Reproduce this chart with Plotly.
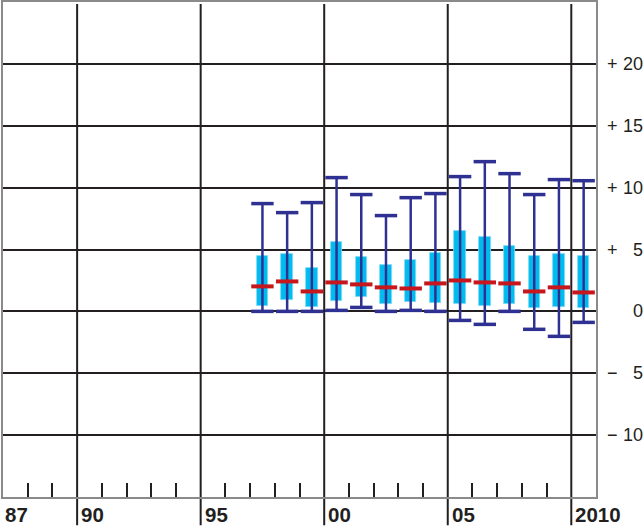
import plotly.graph_objects as go

# ---- data ----
years = [1997, 1998, 1999, 2000, 2001, 2002, 2003, 2004, 2005, 2006, 2007, 2008, 2009, 2010]
upper = [8.71, 7.98, 8.79, 10.81, 9.44, 7.74, 9.19, 9.52, 10.89, 12.10, 11.13, 9.44, 10.65, 10.56]
q3 = [4.49, 4.65, 3.50, 5.57, 4.38, 3.74, 4.17, 4.73, 6.48, 6.02, 5.27, 4.47, 4.60, 4.47]
median = [2.02, 2.42, 1.61, 2.34, 2.18, 1.94, 1.85, 2.26, 2.50, 2.34, 2.26, 1.61, 1.94, 1.53]
q1 = [0.43, 0.89, 0.32, 0.86, 1.13, 0.56, 0.73, 0.65, 0.56, 0.40, 0.56, 0.27, 0.32, 0.24]
lower = [0.00, 0.00, 0.00, 0.08, 0.32, 0.00, 0.08, 0.00, -0.73, -1.05, 0.00, -1.45, -2.02, -0.89]

x_label_years = [1987, 1990, 1995, 2000, 2005, 2010]
x_label_text = ["87", "90", "95", "00", "05", "2010"]
major_years = [1990, 1995, 2000, 2005, 2010]
minor_years = [y for y in range(1988, 2010) if y % 5 != 0]

y_grid = [-10, -5, 0, 5, 10, 15, 20]
y_sign = ["−", "−", "", "+", "+", "+", "+"]
y_num = ["10", "5", "0", "5", "10", "15", "20"]

NAVY = "#2E3192"
CYAN = "#00BCEE"
RED = "#C8161D"
INK = "#231F20"

xc = [y + 0.5 for y in years]  # boxes sit in the middle of each year

fig = go.Figure()

# whiskers
wx, wy = [], []
for x, lo, hi in zip(xc, lower, upper):
    wx += [x, x, None]
    wy += [lo, hi, None]
fig.add_trace(go.Scatter(x=wx, y=wy, mode="lines",
                         line=dict(color=NAVY, width=2.5), hoverinfo="skip"))

# caps
fig.add_trace(go.Scatter(x=xc + xc, y=upper + lower, mode="markers",
                         marker=dict(symbol="line-ew", size=16,
                                     line=dict(color=NAVY, width=3.5)),
                         hoverinfo="skip"))

# boxes
fig.add_trace(go.Bar(x=xc, base=q1, y=[b - a for a, b in zip(q1, q3)],
                     width=0.46, marker=dict(color=CYAN, line=dict(color="#7FD8F5", width=0.8))))

# medians
fig.add_trace(go.Scatter(x=xc, y=median, mode="markers",
                         marker=dict(symbol="line-ew", size=16,
                                     line=dict(color=RED, width=4)),
                         hoverinfo="skip"))

shapes = []
for y in major_years:
    shapes.append(dict(type="line", xref="x", yref="paper", x0=y, x1=y,
                       y0=-0.057, y1=0.996, line=dict(color=INK, width=2), layer="below"))

annotations = []
for y, t in zip(x_label_years, x_label_text):
    annotations.append(dict(x=y, y=-18 / 497, xref="x", yref="paper", text=t,
                            showarrow=False, xanchor="left", yanchor="middle",
                            xshift=2 if y != 1987 else 0,
                            font=dict(family="Liberation Sans", size=20.5, color=INK, weight="bold")))
for v, s, n in zip(y_grid, y_sign, y_num):
    if s:
        annotations.append(dict(x=605.5, y=v, xref="paper", yref="y", text=s, showarrow=False,
                                xanchor="left", yanchor="middle",
                                font=dict(family="Liberation Sans", size=18, color=INK)))
    annotations.append(dict(x=646, y=v, xref="paper", yref="y", text=n, showarrow=False,
                            xanchor="right", yanchor="middle",
                            font=dict(family="Liberation Sans", size=18, color=INK)))

# convert pixel positions for right labels to paper coords
L, R = 2.5, 46.5
pw = 643 - L - R
for a in annotations:
    if a["xref"] == "paper":
        a["x"] = (a["x"] - L) / pw

fig.update_layout(
    width=643, height=529,
    margin=dict(l=L, r=R, t=0, b=32),
    paper_bgcolor="white", plot_bgcolor="white",
    showlegend=False,
    shapes=shapes, annotations=annotations,
    xaxis=dict(range=[1987, 2011], showgrid=False, zeroline=False,
               tickvals=minor_years, ticks="inside", ticklen=14, tickwidth=1.5,
               tickcolor=INK, showticklabels=False,
               showline=True, mirror=True, linecolor="#8a8a8a", linewidth=1.5),
    yaxis=dict(range=[-15, 25], tickvals=y_grid, showgrid=True, gridcolor=INK,
               gridwidth=2, zeroline=False, showticklabels=False, ticks="",
               showline=True, mirror=True, linecolor="#8a8a8a", linewidth=1.5),
    bargap=0,
)

fig.write_html("out.html", config={"displayModeBar": False},
               post_script="document.body.style.margin='0';document.body.style.padding='0';document.body.style.overflow='hidden';")
